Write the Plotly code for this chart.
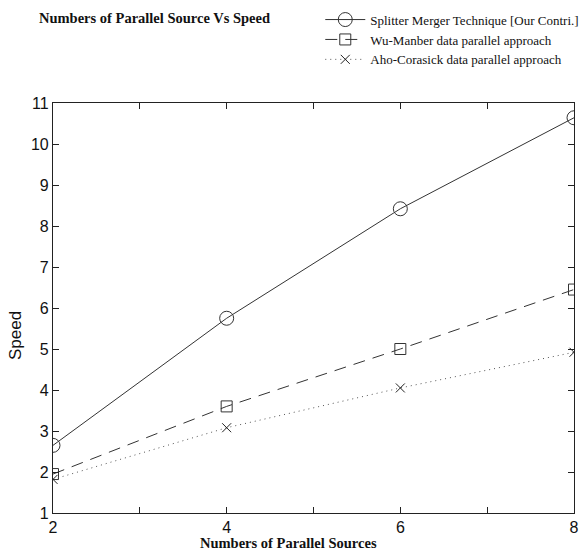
import plotly.graph_objects as go

sources = [2, 4, 6, 8]
splitter = [2.65, 5.75, 8.42, 10.64]
wu_manber = [1.95, 3.6, 5.0, 6.45]
aho_corasick = [1.82, 3.08, 4.05, 4.92]
names = ["Splitter Merger Technique [Our Contri.]",
         "Wu-Manber data parallel approach",
         "Aho-Corasick data parallel approach"]

fig = go.Figure()
fig.add_trace(go.Scatter(x=sources, y=splitter, name=names[0], mode="lines+markers",
                         line=dict(color="#333333", width=1, dash="solid"),
                         marker=dict(symbol="circle-open", size=14, color="#333333", line=dict(width=1))))
fig.add_trace(go.Scatter(x=sources, y=wu_manber, name=names[1], mode="lines+markers",
                         line=dict(color="#333333", width=1, dash="12px,8px"),
                         marker=dict(symbol="square-open", size=11, color="#333333", line=dict(width=1))))
fig.add_trace(go.Scatter(x=sources, y=aho_corasick, name=names[2], mode="lines+markers",
                         line=dict(color="#555555", width=1, dash="1px,4px"),
                         marker=dict(symbol="x-thin-open", size=9, color="#222222", line=dict(width=1))))

axis_common = dict(showline=True, linecolor="#222222", linewidth=1.2, mirror="allticks",
                   ticks="inside", ticklen=6, tickcolor="#222222", showgrid=False, zeroline=False,
                   tickfont=dict(family="Liberation Sans, Arial", size=16, color="#111111"))

fig.update_layout(
    width=587, height=551,
    margin=dict(l=53, r=13, t=103, b=38, autoexpand=False),
    plot_bgcolor="white", paper_bgcolor="white",
    showlegend=True,
    legend=dict(x=0.513, y=1.24, xanchor="left", yanchor="top",
                font=dict(family="Liberation Serif, Times New Roman", size=13, color="#111111"),
                itemwidth=40, tracegroupgap=0, bgcolor="rgba(0,0,0,0)"),
    xaxis=dict(range=[2, 8], tickmode="array", tickvals=[2, 3, 4, 5, 6, 7, 8],
               ticktext=["2", "", "4", "", "6", "", "8"], **axis_common),
    yaxis=dict(range=[1, 11], tickmode="linear", tick0=1, dtick=1, **axis_common),
    annotations=[
        dict(text="<b>Numbers of Parallel Source Vs Speed</b>", xref="paper", yref="paper",
             x=(37 - 53) / 521, y=(513 - 18) / 410, xanchor="left", yanchor="middle", showarrow=False,
             font=dict(family="Liberation Serif, Times New Roman", size=14.5, color="#111111")),
        dict(text="<b>Numbers of Parallel Sources</b>", xref="paper", yref="paper",
             x=(288 - 53) / 521, y=(513 - 543) / 410, xanchor="center", yanchor="middle", showarrow=False,
             font=dict(family="Liberation Serif, Times New Roman", size=14.5, color="#111111")),
        dict(text="Speed", xref="paper", yref="paper", textangle=-90,
             x=(15 - 53) / 521, y=(513 - 336) / 410, xanchor="center", yanchor="middle", showarrow=False,
             font=dict(family="Liberation Sans, Arial", size=17, color="#111111")),
    ],
)

fig.write_html("out.html", config={"displayModeBar": False},
               post_script="document.body.style.margin='0';document.body.style.overflow='hidden';")
